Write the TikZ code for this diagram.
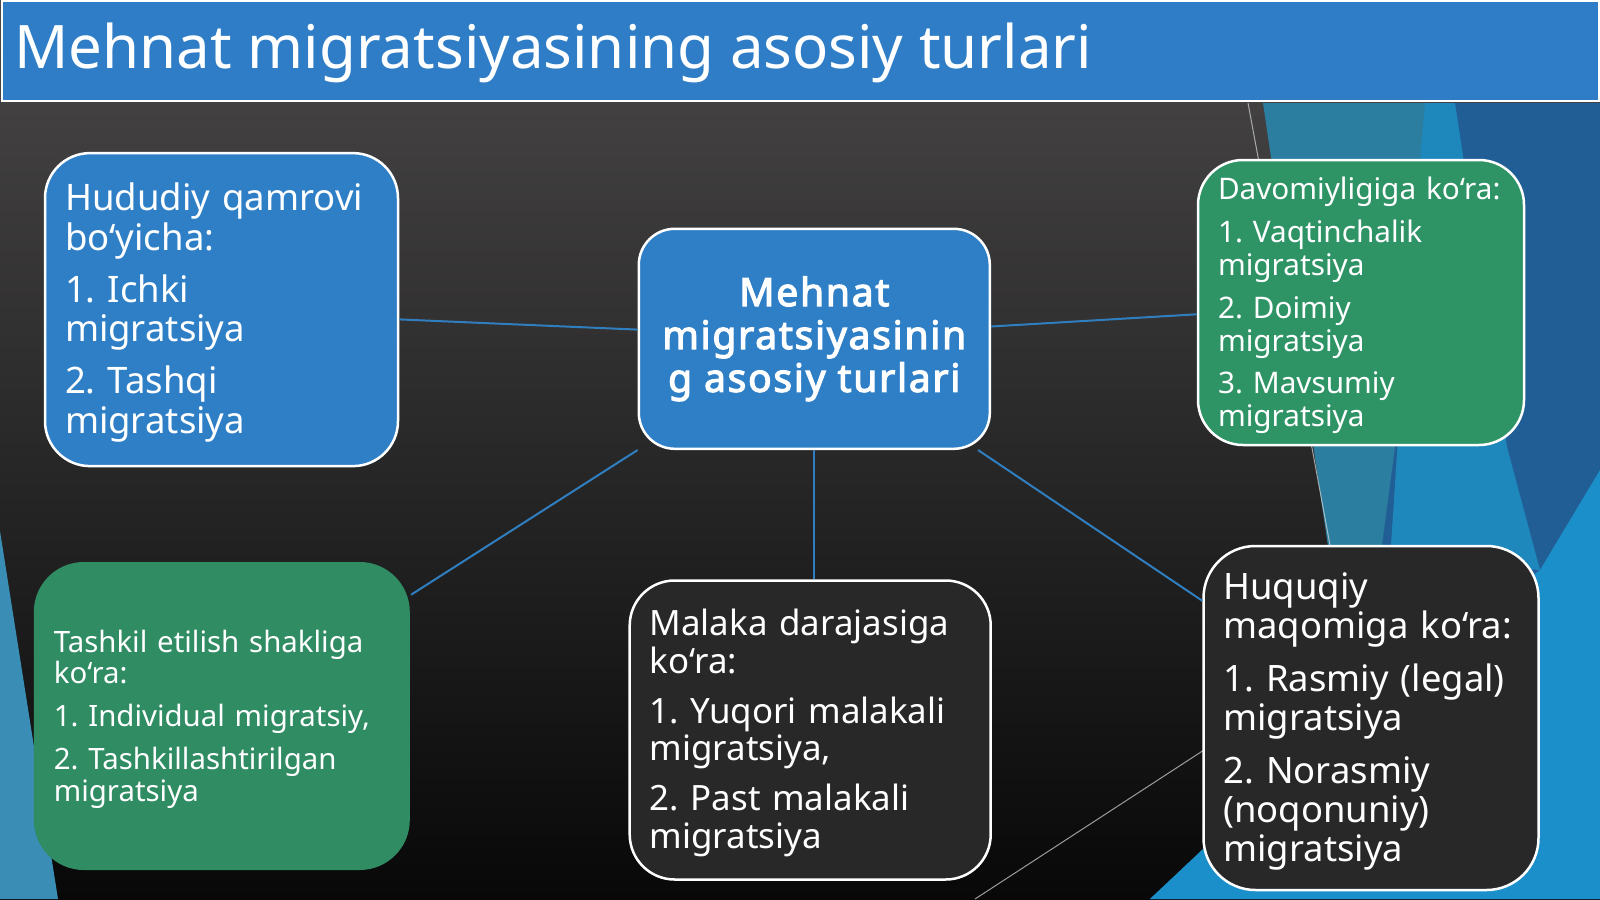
\documentclass[tikz,border=0pt]{standalone}
\usepackage{fontspec}
\setmainfont{Noto Sans}
\newfontfamily\ctrfont{Noto Sans}[FakeBold=3, LetterSpace=4.5]
\usetikzlibrary{positioning}

\definecolor{barblue}{HTML}{2E7DC6}
\definecolor{boxblue}{HTML}{2F7FC7}
\definecolor{boxgreen}{HTML}{2E9466}
\definecolor{tasgreen}{HTML}{2F8C63}
\definecolor{boxdark}{HTML}{292828}
\definecolor{linkblue}{HTML}{2F7FC0}
\definecolor{bgtop}{HTML}{4A4848}
\definecolor{bgbot}{HTML}{080808}
\definecolor{deepblue}{HTML}{215E96}
\definecolor{cyanblue}{HTML}{1E88BC}
\definecolor{tealblue}{HTML}{2B7E9F}
\definecolor{skyblue}{HTML}{1B8FC9}
\definecolor{sideblue}{HTML}{3A8DB5}

\tikzset{
  box/.style={draw=white, line width=2.5pt, rounded corners=45pt, text=white,
    align=left, inner xsep=20pt, inner ysep=0pt},
  listbox/.style={box, execute at begin node={\rule{0pt}{\dimexpr0.76em+#1\relax}}},
  listbox/.default=6pt,
  link/.style={draw=linkblue, line width=2pt},
  thinline/.style={draw=white!70!gray, line width=1pt, opacity=0.7},
}

\begin{document}
\frenchspacing
\begin{tikzpicture}[x=1pt,y=-1pt]
  \useasboundingbox (0,0) rectangle (1600,899);

  % fon
  \shade[top color=bgtop, bottom color=bgbot] (0,0) rectangle (1600,899);
  \fill[deepblue] (1440,103) -- (1600,103) -- (1600,899) -- (1150,899) -- (1340,720) -- (1330,545) -- cycle;
  \fill[cyanblue] (1420,103) -- (1455,103) -- (1507,447) -- (1540,570) -- (1390,560) -- cycle;
  \fill[tealblue] (1263,103) -- (1425,103) -- (1395,447) -- (1380,560) -- (1330,560) -- cycle;
  \fill[skyblue] (1600,470) -- (1600,899) -- (1150,899) -- (1340,720) -- (1540,570) -- cycle;
  \fill[sideblue] (0,531) -- (58,899) -- (0,899) -- cycle;
  \draw[thinline] (1248,103) -- (1330,545);
  \draw[thinline] (975,899) -- (1204,750);

  % sarlavha
  \node[fill=barblue, draw=white, line width=2pt, minimum width=1597pt,
    minimum height=100pt, inner sep=0pt] (bar) at (800,51) {};
  \node[anchor=base west, text=white, inner sep=0pt,
    font=\fontsize{60}{68}\selectfont] (title) at (14.3,68.4)
    {Mehnat migratsiyasining asosiy turlari};

  % bloklar
  \node[listbox=4pt, fill=boxblue, minimum width=351pt, minimum height=220pt,
    rounded corners=36pt, align=center, font=\ctrfont\fontsize{39}{42.9}\selectfont]
    (ctr) at (814.3,338.8) {Mehnat\\ migratsiyasinin\\ g asosiy turlari};

  \node[listbox, fill=boxblue, text width=313pt, minimum height=313pt,
    font=\fontsize{36.5}{39.8}\selectfont] (hud) at (221.5,309.6)
    {Hududiy qamrovi\\ bo‘yicha:\\[12.2pt] 1. Ichki\\ migratsiya\\[12.2pt] 2. Tashqi\\ migratsiya};

  \node[listbox, fill=boxgreen, text width=286pt, minimum height=285pt,
    font=\fontsize{29.7}{32.7}\selectfont] (dav) at (1361,302.5)
    {Davomiyligiga ko‘ra:\\[10.2pt] 1. Vaqtinchalik\\ migratsiya\\[10.2pt] 2. Doimiy\\ migratsiya\\[10.2pt] 3. Mavsumiy\\ migratsiya};

  \node[listbox, draw=none, fill=tasgreen, text width=336pt, minimum height=308pt,
    rounded corners=50pt, font=\fontsize{29.4}{31.6}\selectfont] (tas) at (221.8,716)
    {Tashkil etilish shakliga\\ ko‘ra:\\[11.2pt] 1. Individual migratsiy,\\[11.2pt] 2. Tashkillashtirilgan\\ migratsiya};

  \node[listbox, fill=boxdark, text width=321pt, minimum height=299pt,
    font=\fontsize{34.9}{37.8}\selectfont] (mal) at (810.2,730)
    {Malaka darajasiga\\ ko‘ra:\\[12.2pt] 1. Yuqori malakali\\ migratsiya,\\[12.2pt] 2. Past malakali\\ migratsiya};

  \node[listbox, fill=boxdark, text width=295pt, minimum height=344pt,
    rounded corners=52pt, font=\fontsize{36.4}{38.8}\selectfont] (huq) at (1371,718)
    {Huquqiy\\ maqomiga ko‘ra:\\[14.3pt] 1. Rasmiy (legal)\\ migratsiya\\[14.3pt] 2. Norasmiy\\ (noqonuniy)\\ migratsiya};

  % bog'lanishlar
  \draw[link] ([yshift=9.2]ctr.west) -- ([yshift=-9.8]hud.east);
  \draw[link] ([yshift=12.3]ctr.east) -- ([yshift=-11.8]dav.west);
  \draw[link] (ctr.south west) -- ([yshift=-34]tas.north east);
  \draw[link] (ctr.south) -- (ctr.south |- mal.north);
  \draw[link] ([xshift=-13]ctr.south east) -- ([yshift=-56]huq.north west);
\end{tikzpicture}
\end{document}
